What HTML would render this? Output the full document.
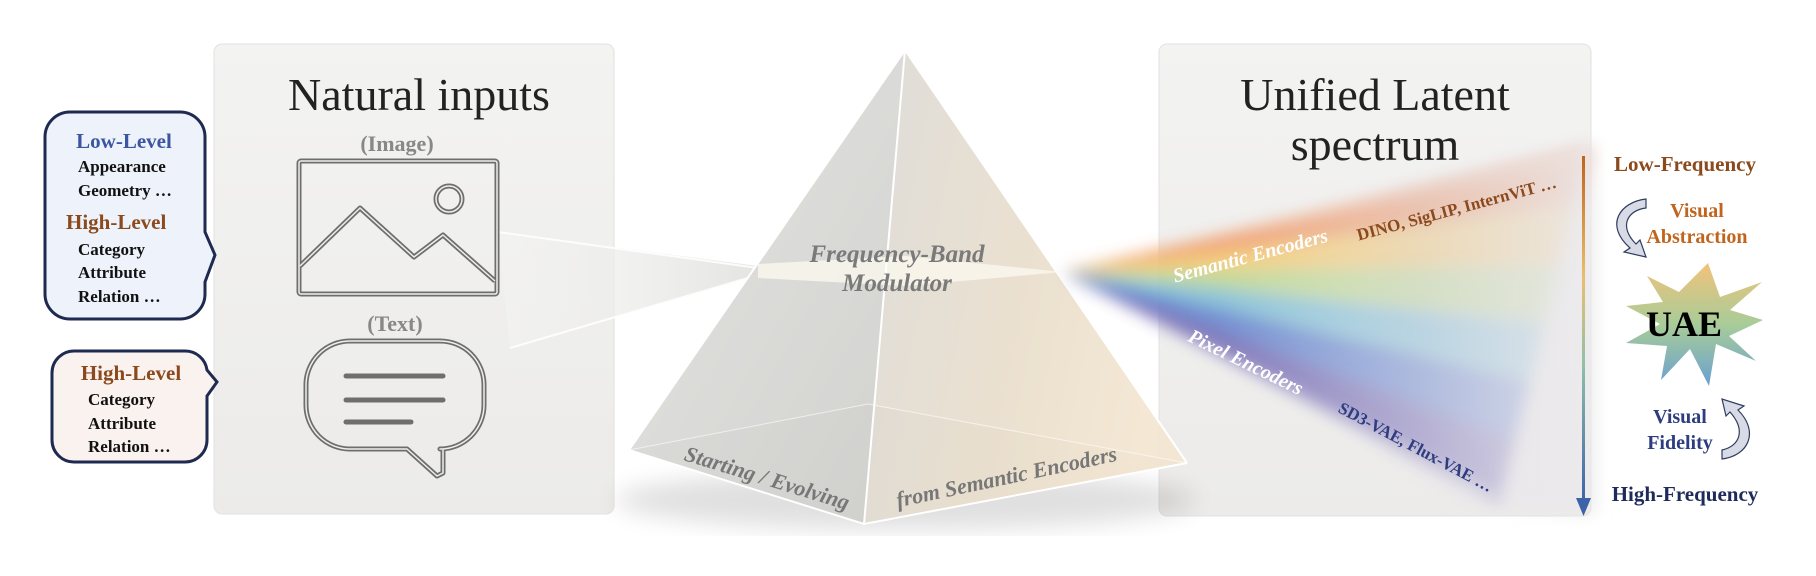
<!DOCTYPE html>
<html><head><meta charset="utf-8"><style>
html,body{margin:0;padding:0;background:#fff;}
svg{display:block;}
text{font-family:"Liberation Serif",serif;}
</style></head><body>
<svg width="1816" height="576" viewBox="0 0 1816 576" xmlns="http://www.w3.org/2000/svg">
<defs>
<linearGradient id="panel" x1="0" y1="0" x2="0" y2="1"><stop offset="0" stop-color="#f3f3f2"/><stop offset="1" stop-color="#ecebe9"/></linearGradient>
<linearGradient id="rface" x1="0" y1="0" x2="1" y2="0.3"><stop offset="0" stop-color="#dcdbd8"/><stop offset="0.6" stop-color="#eadfcd"/><stop offset="1" stop-color="#f3e6d2"/></linearGradient>
<linearGradient id="lface" x1="0" y1="0" x2="1" y2="1"><stop offset="0" stop-color="#e2e2e0"/><stop offset="1" stop-color="#cfcfcc"/></linearGradient>
<linearGradient id="fade" gradientUnits="userSpaceOnUse" x1="1063" y1="0" x2="1600" y2="0"><stop offset="0" stop-color="#fff" stop-opacity="0"/><stop offset="0.3" stop-color="#f4f2f2" stop-opacity="0.1"/><stop offset="0.65" stop-color="#e6e4ea" stop-opacity="0.55"/><stop offset="1" stop-color="#eceaec" stop-opacity="0.92"/></linearGradient>
<linearGradient id="arr" x1="0" y1="0" x2="0" y2="1"><stop offset="0" stop-color="#c0641e"/><stop offset="0.35" stop-color="#e8c070"/><stop offset="0.6" stop-color="#90c0a8"/><stop offset="1" stop-color="#3d62a8"/></linearGradient>
<linearGradient id="star" x1="0" y1="0" x2="0" y2="1"><stop offset="0" stop-color="#f2c27a"/><stop offset="0.5" stop-color="#a8cc98"/><stop offset="1" stop-color="#6aa0d0"/></linearGradient>
<linearGradient id="beam" x1="0" y1="0" x2="1" y2="0"><stop offset="0" stop-color="#f4f4f2" stop-opacity="0.5"/><stop offset="1" stop-color="#e4e4e2"/></linearGradient>
<filter id="bl"><feGaussianBlur stdDeviation="8"/></filter>
<filter id="bl2"><feGaussianBlur stdDeviation="12"/></filter>
</defs>

<rect x="214" y="44" width="400" height="470" rx="8" fill="url(#panel)" stroke="#e2e2e0"/>
<rect x="1159" y="44" width="432" height="472" rx="8" fill="url(#panel)" stroke="#e2e2e0"/>

<text x="419" y="110" font-size="46" text-anchor="middle" fill="#222">Natural inputs</text>
<text x="1375" y="110" font-size="46" text-anchor="middle" fill="#222">Unified Latent</text>
<text x="1375" y="160" font-size="46" text-anchor="middle" fill="#222">spectrum</text>

<polygon points="498,232 758,266 758,276 510,348" fill="url(#beam)"/>
<line x1="498" y1="232" x2="758" y2="268" stroke="#fff" stroke-width="2" opacity="0.9"/>
<line x1="510" y1="348" x2="758" y2="275" stroke="#fff" stroke-width="2" opacity="0.9"/>

<text x="397" y="151" font-size="22" font-weight="bold" text-anchor="middle" fill="#888">(Image)</text>
<g fill="none" stroke="#6e6e6e" stroke-width="5" stroke-linejoin="round">
<rect x="299" y="161" width="198" height="133" rx="2"/>
<polyline points="300,266 360,208 414,257 443,235 495,281"/>
<circle cx="449" cy="199" r="13"/>
</g>
<g fill="none" stroke="#eee" stroke-width="1.5" stroke-linejoin="round">
<rect x="299" y="161" width="198" height="133" rx="2"/>
<polyline points="300,266 360,208 414,257 443,235 495,281"/>
<circle cx="449" cy="199" r="13"/>
</g>
<text x="395" y="331" font-size="22" font-weight="bold" text-anchor="middle" fill="#888">(Text)</text>
<path d="M350,341 H440 A44,44 0 0 1 484,385 V405 A44,44 0 0 1 440,449 H443 V473 L437,476 L407,449 H350 A44,44 0 0 1 306,405 V385 A44,44 0 0 1 350,341 Z" fill="none" stroke="#6e6e6e" stroke-width="5" stroke-linejoin="round"/>
<path d="M350,341 H440 A44,44 0 0 1 484,385 V405 A44,44 0 0 1 440,449 H443 V473 L437,476 L407,449 H350 A44,44 0 0 1 306,405 V385 A44,44 0 0 1 350,341 Z" fill="none" stroke="#eee" stroke-width="1.5" stroke-linejoin="round"/>
<g stroke="#6e6e6e" stroke-width="5" stroke-linecap="round"><line x1="346" y1="376" x2="443" y2="376"/><line x1="346" y1="400" x2="443" y2="400"/><line x1="346" y1="422" x2="411" y2="422"/></g>

<ellipse cx="905" cy="500" rx="290" ry="30" fill="#000" opacity="0.12" filter="url(#bl2)"/>
<polygon points="629,450 868,404 1187,463 864,524" fill="#d2d2cf"/>
<polygon points="905,50 629,450 864,524" fill="url(#lface)" opacity="0.95"/>
<polygon points="905,50 864,524 1187,463" fill="url(#rface)" opacity="0.95"/>
<polygon points="758,264 905,256 1063,272 905,286 758,278" fill="#fbf7ee" opacity="0.8"/>
<g fill="none" stroke="#fff" stroke-width="2">
<polyline points="629,450 864,524 1187,463"/><line x1="905" y1="50" x2="864" y2="524"/>
<line x1="905" y1="50" x2="629" y2="450"/><line x1="905" y1="50" x2="1187" y2="463"/>
</g>
<g fill="none" stroke="#fff" stroke-width="1" opacity="0.6"><polyline points="629,450 868,404 1187,463"/></g>
<text x="897" y="262" font-size="25" font-weight="bold" font-style="italic" text-anchor="middle" fill="#7a7a7a">Frequency-Band</text>
<text x="897" y="291" font-size="25" font-weight="bold" font-style="italic" text-anchor="middle" fill="#7a7a7a">Modulator</text>
<text transform="translate(765,485) rotate(17)" font-size="22" font-weight="bold" font-style="italic" text-anchor="middle" fill="#777">Starting / Evolving</text>
<text transform="translate(1008,484) rotate(-12)" font-size="22" font-weight="bold" font-style="italic" text-anchor="middle" fill="#777">from Semantic Encoders</text>

<!-- rainbow wedges -->
<g filter="url(#bl)" opacity="0.9">
<polygon points="1063,272 1590,150 1575,208" fill="#f0905a"/>
<polygon points="1063,272 1575,206 1560,267" fill="#f4c868"/>
<polygon points="1063,272 1560,265 1545,325" fill="#b8d68a"/>
<polygon points="1063,272 1545,323 1530,383" fill="#78bcd4"/>
<polygon points="1063,272 1530,381 1515,442" fill="#5a7ccc"/>
<polygon points="1063,272 1515,440 1500,500" fill="#6a60b0"/>
</g>
<polygon points="1063,272 1300,210 1595,140 1595,515 1470,505 1300,405" fill="url(#fade)" filter="url(#bl)"/>
<text transform="translate(1252,262) rotate(-15)" font-size="20" font-weight="bold" font-style="italic" text-anchor="middle" fill="#fff">Semantic Encoders</text>
<text transform="translate(1458,214) rotate(-15)" font-size="17" font-weight="bold" text-anchor="middle" fill="#8b4a1e">DINO,  SigLIP,  InternViT …</text>
<text transform="translate(1243,368) rotate(26)" font-size="20" font-weight="bold" font-style="italic" text-anchor="middle" fill="#fff">Pixel Encoders</text>
<text transform="translate(1413,452) rotate(28)" font-size="17" font-weight="bold" text-anchor="middle" fill="#2e3d80">SD3-VAE, Flux-VAE …</text>

<rect x="1582" y="156" width="3" height="348" fill="url(#arr)"/>
<polygon points="1576,498 1591,498 1583.5,516" fill="#3d62a8"/>

<text x="1685" y="171" font-size="21" font-weight="bold" text-anchor="middle" fill="#8b4a1e">Low-Frequency</text>
<text x="1697" y="217" font-size="20" font-weight="bold" text-anchor="middle" fill="#c0641e">Visual</text>
<text x="1697" y="243" font-size="20" font-weight="bold" text-anchor="middle" fill="#c0641e">Abstraction</text>
<path d="M1646,199 C1620,202 1604,225 1630,248 L1624,252 L1646,257 L1640,240 L1636,244 C1618,226 1628,210 1646,208 Z" fill="#d8dbe6" stroke="#2e3d60" stroke-width="1.2"/>
<polygon points="1708,263 1720,297 1762,282 1730,310 1763,320 1729,336 1756,361 1716,344 1709,386 1690,349 1661,380 1667,346 1626,343 1660,324 1626,306 1663,302 1647,276 1679,292" fill="url(#star)"/>
<text x="1684" y="336" font-size="36" font-weight="bold" text-anchor="middle" fill="#000">UAE</text>
<text x="1680" y="423" font-size="20" font-weight="bold" text-anchor="middle" fill="#2e3d80">Visual</text>
<text x="1680" y="449" font-size="20" font-weight="bold" text-anchor="middle" fill="#2e3d80">Fidelity</text>
<path d="M1722,459 C1748,456 1760,432 1738,410 L1744,406 L1722,399 L1726,416 L1730,412 C1746,430 1740,446 1722,450 Z" fill="#d8dbe6" stroke="#2e3d60" stroke-width="1.2"/>
<text x="1685" y="501" font-size="21" font-weight="bold" text-anchor="middle" fill="#1e2a5a">High-Frequency</text>

<path d="M70,112 H180 A25,25 0 0 1 205,137 V232 L215,255 L205,282 V294 A25,25 0 0 1 180,319 H70 A25,25 0 0 1 45,294 V137 A25,25 0 0 1 70,112 Z" fill="#edf2fb" stroke="#1e2a50" stroke-width="3"/>
<text x="124" y="148" font-size="21" font-weight="bold" text-anchor="middle" fill="#3b55a0">Low-Level</text>
<text x="78" y="172" font-size="17" font-weight="bold" fill="#111">Appearance</text>
<text x="78" y="196" font-size="17" font-weight="bold" fill="#111">Geometry …</text>
<text x="66" y="229" font-size="21" font-weight="bold" fill="#8b4a1e">High-Level</text>
<text x="78" y="255" font-size="17" font-weight="bold" fill="#111">Category</text>
<text x="78" y="278" font-size="17" font-weight="bold" fill="#111">Attribute</text>
<text x="78" y="302" font-size="17" font-weight="bold" fill="#111">Relation …</text>

<path d="M75,351 H185 A22,22 0 0 1 207,370 L217,382 L207,396 V440 A22,22 0 0 1 185,462 H75 A22,22 0 0 1 52,440 V373 A22,22 0 0 1 75,351 Z" fill="#faf2ee" stroke="#1e2a50" stroke-width="3"/>
<text x="131" y="380" font-size="21" font-weight="bold" text-anchor="middle" fill="#8b4a1e">High-Level</text>
<text x="88" y="405" font-size="17" font-weight="bold" fill="#111">Category</text>
<text x="88" y="429" font-size="17" font-weight="bold" fill="#111">Attribute</text>
<text x="88" y="452" font-size="17" font-weight="bold" fill="#111">Relation …</text>
</svg>
</body></html>
